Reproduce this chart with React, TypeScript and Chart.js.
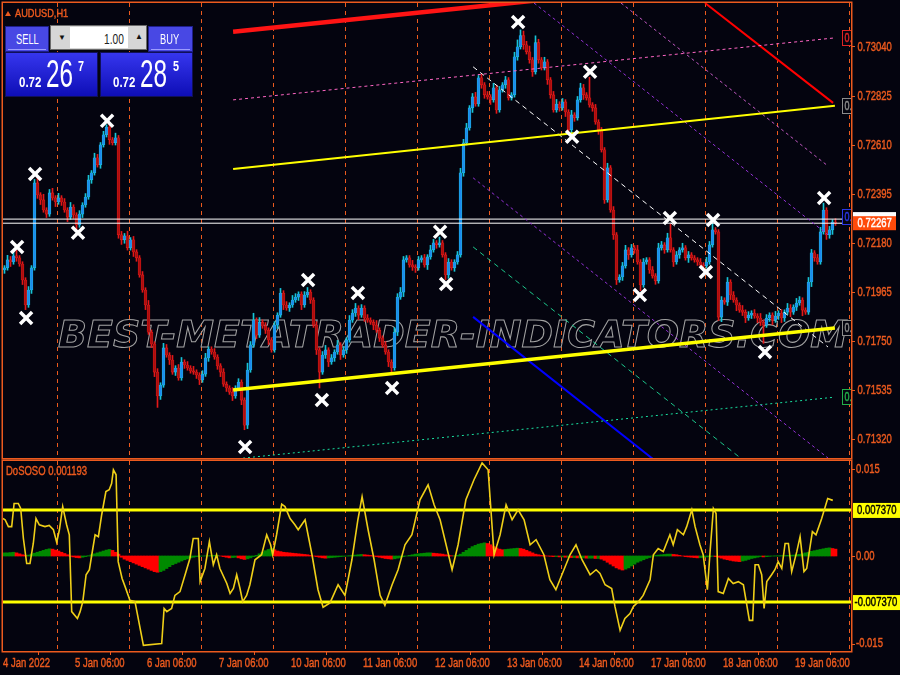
import React, { useEffect, useRef } from 'react';
import { Chart, registerables } from 'chart.js';

Chart.register(...registerables);

const ORANGE = '#EC5A1E';
const BG = '#04040f';
const SANS = "'Liberation Sans', Arial, sans-serif";

// ---------------- price pane (AUDUSD H1), one value per hourly bar ----------------
const firstOpen = 0.72062;
const closes = [
  0.72071,0.72106,0.72097,0.72124,0.72115,0.72088,0.72018,0.71908,0.71974,0.72071,
  0.72444,0.72391,0.72369,0.72325,0.72307,0.72400,0.72378,0.72360,0.72378,0.72360,
  0.72325,0.72294,0.72338,0.72303,0.72259,0.72307,0.72347,0.72382,0.72457,0.72488,
  0.72554,0.72523,0.72611,0.72655,0.72689,0.72633,0.72620,0.72642,0.72216,0.72194,
  0.72212,0.72159,0.72194,0.72141,0.72115,0.72040,0.71974,0.71908,0.71789,0.71737,
  0.71614,0.71509,0.71557,0.71720,0.71689,0.71667,0.71614,0.71632,0.71588,0.71658,
  0.71645,0.71632,0.71619,0.71614,0.71601,0.71579,0.71605,0.71676,0.71715,0.71702,
  0.71680,0.71641,0.71614,0.71561,0.71544,0.71526,0.71509,0.71544,0.71570,0.71491,
  0.71381,0.71623,0.71733,0.71842,0.71776,0.71833,0.71816,0.71798,0.71755,0.71711,
  0.71820,0.71864,0.71961,0.71908,0.71895,0.71908,0.71930,0.71943,0.71956,0.71908,
  0.71952,0.71965,0.71930,0.71820,0.71711,0.71614,0.71689,0.71711,0.71658,0.71676,
  0.71702,0.71733,0.71689,0.71711,0.71755,0.71842,0.71873,0.71895,0.71864,0.71895,
  0.71851,0.71842,0.71833,0.71820,0.71798,0.71763,0.71733,0.71702,0.71658,0.71632,
  0.71789,0.71943,0.71965,0.72106,0.72115,0.72084,0.72075,0.72071,0.72106,0.72115,
  0.72084,0.72119,0.72150,0.72181,0.72172,0.72181,0.72128,0.72040,0.72097,0.72071,
  0.72097,0.72128,0.72488,0.72620,0.72685,0.72773,0.72821,0.72790,0.72905,0.72874,
  0.72830,0.72821,0.72808,0.72861,0.72764,0.72852,0.72874,0.72896,0.72817,0.72830,
  0.72997,0.73041,0.73090,0.73050,0.73019,0.72984,0.72931,0.73059,0.72984,0.72949,
  0.72975,0.72896,0.72830,0.72764,0.72790,0.72773,0.72799,0.72755,0.72677,0.72742,
  0.72729,0.72808,0.72861,0.72830,0.72817,0.72786,0.72773,0.72711,0.72677,0.72589,
  0.72369,0.72510,0.72325,0.72216,0.72018,0.72031,0.72080,0.72150,0.72128,0.72159,
  0.72150,0.72097,0.71996,0.72097,0.72106,0.72062,0.72036,0.72014,0.72159,0.72172,
  0.72150,0.72203,0.72150,0.72097,0.72128,0.72150,0.72159,0.72115,0.72128,0.72115,
  0.72106,0.72097,0.72084,0.72080,0.72097,0.72172,0.72238,0.72229,0.71855,0.71930,
  0.71921,0.72009,0.71952,0.71930,0.71908,0.71886,0.71877,0.71851,0.71864,0.71873,
  0.71860,0.71851,0.71833,0.71820,0.71851,0.71864,0.71842,0.71860,0.71873,0.71851,
  0.71877,0.71895,0.71877,0.71899,0.71917,0.71930,0.71886,0.71877,0.72009,0.72137,
  0.72115,0.72097,0.72229,0.72325,0.72216,0.72238,0.72272,0.72267,
];
// upper / lower shadow beyond the body, in pips
const wickUp = [
  1,2,1.5,2,2.5,1,1,1,1.5,1, 1.5,2,1,2.5,1,1.5,2,1,2,1, 1.5,1,2,1,1,1.5,1,1.5,2,1,
  2,1.5,1,1.5,1,1.5,1,2,1,1.5, 1,2,1,1.5,1,1,1.5,1,2,1, 1,1.5,1,2,1.5,1,2,1,1.5,2,
  1,1.5,1,2,1,1,1.5,2,1,1, 1.5,1,1,1.5,1,1,2,1,1.5,1, 1,3,1.5,3,1,2,1,1.5,1,1,
  1.5,1,2,1,1.5,1,2,1.5,1,1, 1.5,2,1,1,1.5,1,1.5,2,1,1.5, 1,2,1,1.5,1,2,1.5,2,1,1.5,
  1,1.5,1,1,2,1,1,1.5,1,1, 2,1.5,2,1.5,1,1,2,1,1.5,1, 1.5,1,2,1.5,1,2.5,1,1,1.5,1,
  1,1.5,2,1.5,2,1,1.5,2,1,1.5, 1,1.5,1,2,1,1.5,1,1.5,1,1, 2,3,2.5,2,1.5,2.5,1,3,1.5,1,
  2,1,1,1.5,2,1,1.5,1,1,2, 1,1.5,2,1.5,1,9,1,1.5,1,1, 1,2,1,1.5,1,1,1.5,2,1,1.5,
  1,2,1,1.5,1,1,1.5,1,2,1.5, 1,2,6,1,1.5,1,2,1,1.5,1, 1,1,1.5,1,2,1.5,3,1,1,1.5,
  1,2,1,1.5,1,1,2,1,1.5,1, 1.5,1,2,1,1.5,1,1,2,1,1.5, 1,2,1.5,1,2,1.5,1,1,2,1.5,
  1,1.5,2,3,1,1.5,1,1.5,
];
const wickDn = [
  1.5,1,2,1,1.5,1,2,2,1,1.5, 1,1.5,2,1,1.5,1,1,2,1,1.5, 1,2,1,1.5,2,1,1.5,1,1,1.5,
  1,1,1.5,1,1,2,1,1,1.5,2, 1.5,1,1,2,1.5,1,1,2,1,1.5, 2,5,1.5,1,1,2,1,1.5,1,1,
  1.5,1,1,1,1.5,2,1,1,1.5,1, 1,1.5,2,1,1.5,1,2,1,1,2, 2,1.5,1,1,1.5,1,1,1.5,2,1,
  1,1.5,1,2,1,1.5,1,1,1.5,2, 1,1,1.5,1,2,7,1,1.5,2,1, 1.5,1,2,1,1.5,1,1,1.5,2,1,
  1.5,1,1,2,1,1.5,1,1,2,3, 1,1.5,1,2,1,1,1.5,2,1,1, 1,2,1,1,1.5,1,1,2,1.5,1,
  1.5,1,1,1.5,1,1,2,1,1,1.5, 1.5,1,2,1,1.5,1,1,1.5,1,1, 1,1.5,1,2,1,1.5,2,1,1.5,1,
  1,2,1.5,1,1,1.5,1,2,1.5,1.5, 1.5,1,1,2,1,1,1.5,1,2,1, 1.5,1,1,2,2,1,1.5,1,2,1,
  1.5,1,2.5,1,1,1.5,1,1.5,1,1, 1.5,1,1,2,1,1.5,1,1,2,1, 1,1.5,1,1.5,1,1,1,1,1.5,2,
  1,1.5,2,1,2.5,1,1.5,2,1,1.5, 1,2,1.5,8,1,1.5,2,1,1.5,2, 1.5,1,2,1,1.5,1,2.5,1,1,2,
  1.5,1,1,1,2,1.5,2,1,
];
const PIP = 0.0001;

const priceTicks = [0.7132, 0.71535, 0.7175, 0.71965, 0.7218, 0.72395, 0.7261, 0.72825, 0.7304];
const priceMin = 0.71237;
const priceMax = 0.73233;
const bidPrice = 0.72267;
const askPrice = 0.72285;

const X_MIN = -0.5;
const X_MAX = 282.17;
const dayStarts = [17.5, 41.5, 65.5, 89.5, 113.5, 137.5, 161.5, 185.5, 209.5, 233.5, 257.5, 281.5];
const dateTicks = [-0.5, 23.5, 47.5, 71.5, 95.5, 119.5, 143.5, 167.5, 191.5, 215.5, 239.5, 263.5];
const dateLabels = ['4 Jan 2022', '5 Jan 06:00', '6 Jan 06:00', '7 Jan 06:00', '10 Jan 06:00', '11 Jan 06:00',
  '12 Jan 06:00', '13 Jan 06:00', '14 Jan 06:00', '17 Jan 06:00', '18 Jan 06:00', '19 Jan 06:00'];

// zigzag swing markers (bar position, price)
const zigzagIdx = [4.2, 7.2, 10.2, 24.5, 34.2, 80.2, 101.2, 105.8, 117.8, 129.2, 145.2, 147.2, 171.2, 189.2, 195.2, 211.8, 221.8, 233.8, 236.2, 253.5, 273.2];
const zigzagPrice = [0.72163, 0.71851, 0.72483, 0.72225, 0.72716, 0.71285, 0.72018, 0.71491, 0.71961, 0.71544, 0.72229, 0.72000, 0.73150, 0.72646, 0.72931, 0.71952, 0.72290, 0.72053, 0.72281, 0.71702, 0.72378];

// regression channel (start bar, end bar) and price at both ends
const channelIdx = [76.2, 276.8];
const chanRed = [0.73107, 0.73379];
const chanPink = [0.72808, 0.73080];
const chanYellowUpper = [0.72505, 0.72782];
const chanYellowLower = [0.71535, 0.71807];
const chanGreen = [0.71232, 0.71504];

// descending fork lines: [startBar, endBar], [startPrice, endPrice]
const forkRedIdx = [233.5, 276.2];     const forkRed = [0.73233, 0.72795];
const forkOrchidIdx = [205.5, 274.5];  const forkOrchid = [0.73233, 0.72518];
const forkUpperIdx = [176.5, 274.5];   const forkUpper = [0.73233, 0.72216];
const forkMidIdx = [156.2, 274.5];     const forkMedian = [0.72953, 0.71724];
const forkLower = [0.72466, 0.71237];
const forkGreen = [0.72163, 0.70934];
const forkBlue = [0.71856, 0.70626];

// small object tags at the right edge of the price pane
const tagPrices = [0.73080, 0.72782, 0.72295, 0.71807, 0.71504];
const tagColors = ['#E02424', '#8c8c8c', '#2a36e6', '#8c8c8c', '#22b04a'];

// ---------------- DoSOSO sub-window (values in units of 0.001) ----------------
const histMilli = [
  0.5,0.5,0.55,0.6,0.5,0.35,0.2,0.1,0.15,0.3, 0.45,0.6,0.75,0.9,1.05,1.15,1.1,0.95,0.8,0.6,
  0.4,0.2,-0.05,-0.15,-0.25,-0.3,-0.2,-0.1,0.05,0.2, 0.35,0.5,0.65,0.8,0.95,1.05,0.9,0.6,0.3,-0.2,
  -0.5,-0.7,-0.9,-1.1,-1.3,-1.5,-1.7,-1.9,-2.1,-2.3, -2.5,-2.6,-2.5,-2.3,-2.0,-1.7,-1.4,-1.2,-1.0,-0.8,
  -0.6,-0.45,-0.3,-0.2,-0.1,-0.05,0,0.02,0.05,0.08, 0.1,0.1,0,-0.1,-0.2,-0.3,-0.25,-0.2,-0.3,-0.45,
  -0.55,-0.45,-0.3,-0.1,0.1,0.35,0.6,0.85,1.05,1.2, 1.0,0.8,0.7,0.6,0.55,0.5,0.45,0.4,0.35,0.3,
  0.25,0.2,0.1,0,-0.1,-0.2,-0.3,-0.35,-0.3,-0.25, -0.2,-0.15,-0.1,-0.05,0,0.05,0.1,0.15,0.2,0.25,
  0.2,0.15,0.1,0,-0.1,-0.2,-0.3,-0.4,-0.45,-0.5, -0.45,-0.35,-0.25,-0.1,0,0.1,0.2,0.3,0.35,0.4,
  0.45,0.5,0.5,0.45,0.4,0.35,0.3,0.2,0.1,0.05, 0.05,0.1,0.3,0.6,0.9,1.2,1.5,1.7,1.9,2.0,
  2.1,2.0,1.8,1.5,1.3,1.1,1.0,1.05,1.1,1.15, 1.2,1.25,1.2,1.1,0.9,0.7,0.5,0.3,0.2,0.1,
  0.05,0,-0.05,-0.1,-0.1,-0.15,-0.15,-0.2,-0.2,-0.25, -0.25,-0.3,-0.3,-0.3,-0.35,-0.35,-0.35,-0.4,-0.4,-0.5,
  -0.7,-1.0,-1.3,-1.6,-1.9,-2.1,-2.25,-2.1,-1.9,-1.6, -1.3,-1.0,-0.8,-0.6,-0.4,-0.25,0,0.1,0.15,0.2,
  0.25,0.3,0.3,0.25,0.2,0.1,0,-0.1,-0.15,-0.2, -0.25,-0.3,-0.25,-0.2,-0.15,-0.1,-0.05,-0.1,-0.2,-0.35,
  -0.5,-0.6,-0.7,-0.8,-0.85,-0.9,-0.8,-0.7,-0.55,-0.4, -0.3,-0.2,-0.1,-0.15,-0.1,-0.05,0,0.02,0.04,0.06,
  0.08,0.1,0.12,0.15,0.2,0.25,0.35,0.5,0.6,0.75, 0.85,0.95,1.05,1.15,1.25,1.3,1.2,1.1,
];
// oscillator line vertices: [bar position, value]
const oscPoints = [
  [-0.5,6.0],[0.2,5.8],[1.3,4.7],[2.4,4.7],[3.2,8.4],[4.6,8.4],[5.4,7.6],[6.3,2.8],[7.4,-1.2],[8.5,-1.2],
  [9.6,2.0],[10.5,6.0],[11.6,5.0],[13.5,4.7],[14.9,4.9],[16.3,4.2],[17.4,2.2],[18.3,4.2],[19.4,7.9],[20.7,5.0],
  [21.6,3.4],[22.4,-8.9],[24.3,-10.0],[25.2,-8.9],[26.1,-7.3],[27.2,-3.0],[28.3,-2.2],[29.1,0.2],[30.2,3.4],[31.3,3.1],
  [32.4,6.6],[33.8,10.3],[34.9,10.6],[35.7,11.6],[36.3,13.8],[37.2,13.0],[37.9,-0.9],[39.2,-3.6],[40.2,-4.9],[41.8,-7.1],
  [43.5,-7.3],[46.3,-14.3],[52.4,-14.0],[53.2,-8.4],[54.1,-8.9],[55.7,-8.4],[56.8,-6.3],[58.5,-5.7],[60.2,-3.0],[61.8,-0.4],
  [62.9,2.8],[64.6,2.8],[65.2,-4.1],[66.8,-2.0],[68.3,2.3],[69.6,-1.4],[70.7,0.2],[71.8,-2.0],[74.1,-4.4],[75.2,-6.0],
  [76.3,-5.2],[77.4,-3.0],[78.5,-5.2],[79.4,-7.3],[80.7,-6.3],[81.8,-4.6],[83.5,-0.6],[85.7,0.2],[87.4,3.4],[88.7,1.8],
  [89.4,0.2],[90.7,3.4],[92.4,8.3],[93.5,7.9],[95.2,6.0],[96.8,5.0],[97.9,4.2],
  [100.2,5.8],[102.5,0.2],[104.5,-5.4],[106.2,-8.2],[108.5,-7.5],[111.2,-4.6],[113.5,-6.3],[115.8,-0.6],[117.8,5.8],[119.2,9.5],
  [121.2,4.2],[123.2,-0.6],[125.2,-6.3],[126.8,-7.9],[129.2,-4.6],[131.2,-2.2],[133.5,1.8],[135.8,3.4],[138.5,9.0],[141.2,11.4],
  [143.2,8.2],[145.2,5.8],[147.2,1.8],[149.2,-2.2],[151.2,1.8],[153.8,9.0],[156.5,12.2],[159.2,14.9],[161.2,13.8],[163.2,0.2],
  [165.2,3.4],[167.2,8.2],[169.2,5.8],[171.2,7.4],[173.2,5.8],[175.2,1.8],[177.2,2.6],[179.8,0.2],[181.8,-3.8],[183.8,-5.4],
  [185.8,-3.0],[188.5,0.2],[190.5,1.8],[192.5,-0.6],[195.2,-3.0],[197.2,-2.2],
  [198.5,-2.8],[200.2,-4.6],[202.4,-5.2],[203.5,-8.1],[205.2,-11.9],[206.8,-10.0],[208.5,-9.2],[209.6,-8.1],[211.3,-7.3],[212.9,-6.3],
  [215.2,-3.8],[216.3,0.2],[217.9,1.2],[219.6,0.7],[221.8,3.4],[222.9,1.8],[224.3,4.2],[226.3,3.4],[227.4,4.7],[229.1,7.4],
  [230.2,4.7],[231.8,1.8],[232.9,0.2],[234.3,-5.4],[235.2,0.7],[236.3,7.6],[237.2,6.8],[237.9,-5.7],[239.6,-6.0],[241.3,-3.6],
  [242.9,-4.4],[244.6,-4.1],[246.3,-4.6],[248.3,-10.3],[249.4,-10.3],[250.2,-1.4],[251.3,-1.4],[252.4,-3.0],[253.2,-8.4],[254.1,-4.1],
  [255.7,-3.0],[256.8,-2.2],[257.9,-0.9],[259.1,-2.0],[260.2,2.0],[261.3,2.0],[262.4,-2.5],[264.1,0.7],[265.2,3.1],[266.5,-2.5],
  [267.4,-2.0],[269.3,3.9],[270.5,3.4],[272.4,6.0],[274.4,9.2],[276.1,8.9],
];
const levelMilli = [7.37, -7.37];
const oscRange = [-15.2, 15.2];
const oscAxisTicks = [15, 0, -15];
const oscAxisLabels = ['0.015', '0.00', '-0.015'];
const levelLabels = ['0.007370', '-0.007370'];

const WATERMARK = 'BEST-METATRADER-INDICATORS.COM';

function seg(idx: number[], vals: number[]) {
  return [{ x: idx[0], y: vals[0] }, { x: idx[1], y: vals[1] }];
}

function lineDs(data: any[], color: string, width: number, dash: number[] = [], order = 5) {
  return { type: 'line', data, borderColor: color, borderWidth: width, borderDash: dash, pointRadius: 0, tension: 0, clip: 0, order, fill: false };
}

// text in the squeezed MT4 look: regular sans, compressed horizontally, slightly emboldened
function narrowText(ctx: CanvasRenderingContext2D, text: string, x: number, y: number, size: number, color: string, sx = 0.75, bold = false) {
  ctx.save();
  ctx.font = `${bold ? 'bold ' : ''}${size}px ${SANS}`;
  ctx.fillStyle = color;
  ctx.strokeStyle = color;
  ctx.lineWidth = 0.45;
  ctx.textBaseline = 'middle';
  ctx.textAlign = 'left';
  ctx.translate(x, y);
  ctx.scale(sx, 1);
  ctx.fillText(text, 0, 0);
  ctx.strokeText(text, 0, 0);
  ctx.restore();
}

function drawVerticalGrid(chart: any) {
  const { ctx, chartArea: a, scales } = chart;
  const x = scales.x;
  ctx.save();
  ctx.beginPath();
  ctx.rect(a.left, a.top, a.right - a.left, a.bottom - a.top);
  ctx.clip();
  ctx.strokeStyle = ORANGE;
  ctx.lineWidth = 1;
  ctx.setLineDash([4, 4]);
  dayStarts.forEach((d) => {
    const px = Math.round(x.getPixelForValue(d)) + 0.5;
    ctx.beginPath();
    ctx.moveTo(px, a.top);
    ctx.lineTo(px, a.bottom);
    ctx.stroke();
  });
  ctx.restore();
}

function drawFrame(chart: any) {
  const { ctx, chartArea: a } = chart;
  ctx.save();
  ctx.strokeStyle = ORANGE;
  ctx.lineWidth = 1.5;
  ctx.strokeRect(a.left - 0.75, a.top - 0.75, a.right - a.left + 1.5, a.bottom - a.top + 1.5);
  ctx.restore();
}

const pricePanePlugin = {
  id: 'pricePane',
  beforeDatasetsDraw(chart: any) {
    drawVerticalGrid(chart);
    const { ctx, chartArea: a } = chart;
    ctx.save();
    ctx.beginPath();
    ctx.rect(a.left, a.top, a.right - a.left, a.bottom - a.top);
    ctx.clip();
    ctx.font = "italic bold 40px 'DejaVu Sans'";
    const w = ctx.measureText(WATERMARK).width;
    ctx.translate(58, 347);
    ctx.scale(790 / w, 0.95);
    ctx.strokeStyle = '#a2a2a2';
    ctx.lineWidth = 1.1;
    ctx.strokeText(WATERMARK, 0, 0);
    ctx.restore();
  },
  afterDatasetsDraw(chart: any) {
    const { ctx, chartArea: a, scales } = chart;
    const y = scales.y;
    drawFrame(chart);
    // object tags clipped by the pane border
    ctx.save();
    ctx.beginPath();
    ctx.rect(a.left, a.top, a.right - a.left, a.bottom - a.top);
    ctx.clip();
    tagPrices.forEach((p, i) => {
      const py = Math.round(y.getPixelForValue(p));
      ctx.fillStyle = BG;
      ctx.fillRect(842, py - 8, 14, 16);
      ctx.strokeStyle = tagColors[i];
      ctx.lineWidth = 1;
      ctx.strokeRect(842.5, py - 7.5, 14, 15);
      narrowText(ctx, '0.', 844.5, py + 0.5, 12, tagColors[i]);
    });
    ctx.restore();
    // price axis labels
    priceTicks.forEach((v) => {
      narrowText(ctx, v.toFixed(5), 857.5, y.getPixelForValue(v) + 0.5, 13, ORANGE, 0.73);
    });
    // ask / bid price labels on the axis
    const ya = y.getPixelForValue(askPrice);
    const yb = y.getPixelForValue(bidPrice);
    ctx.save();
    ctx.fillStyle = '#ffffff';
    ctx.fillRect(853, ya - 7, 43, 14);
    ctx.fillStyle = '#FF4A0A';
    ctx.fillRect(853, yb - 7, 43, 14);
    ctx.restore();
    narrowText(ctx, bidPrice.toFixed(5), 857.5, yb + 0.5, 13, '#ffffff', 0.73);
    // title
    ctx.save();
    ctx.fillStyle = ORANGE;
    ctx.beginPath();
    ctx.moveTo(5, 16);
    ctx.lineTo(8, 11);
    ctx.lineTo(11, 16);
    ctx.closePath();
    ctx.fill();
    ctx.restore();
    narrowText(ctx, 'AUDUSD,H1', 15, 14, 11.5, ORANGE, 0.8);
  },
};

const oscPanePlugin = {
  id: 'oscPane',
  beforeDatasetsDraw(chart: any) {
    drawVerticalGrid(chart);
  },
  afterDatasetsDraw(chart: any) {
    const { ctx, chartArea: a, scales } = chart;
    const y = scales.y;
    const x = scales.x;
    drawFrame(chart);
    narrowText(ctx, 'DoSOSO 0.001193', 6, a.top + 11, 12.5, ORANGE, 0.76);
    oscAxisTicks.forEach((v, i) => {
      let py = y.getPixelForValue(v);
      if (v > 0) py += 7;
      if (v < 0) py -= 6;
      narrowText(ctx, oscAxisLabels[i], 856, py, 13, ORANGE, 0.73);
      ctx.save();
      ctx.fillStyle = ORANGE;
      ctx.fillRect(a.right, Math.round(py), 4, 1);
      ctx.restore();
    });
    levelMilli.forEach((v, i) => {
      const py = y.getPixelForValue(v);
      ctx.save();
      ctx.fillStyle = '#FFFF00';
      ctx.fillRect(853, py - 7, 47, 15);
      ctx.restore();
      narrowText(ctx, levelLabels[i], v > 0 ? 857 : 854.5, py + 0.5, 13, '#000000', 0.73);
    });
    // time axis labels
    dateTicks.forEach((t, i) => {
      narrowText(ctx, dateLabels[i], x.getPixelForValue(t), a.bottom + 12, 13, ORANGE, 0.73);
    });
  },
};

export default function App() {
  const priceRef = useRef<HTMLCanvasElement>(null);
  const oscRef = useRef<HTMLCanvasElement>(null);

  useEffect(() => {
    const opens = closes.map((c, i) => (i === 0 ? firstOpen : closes[i - 1]));
    const bull = closes.map((c, i) => c >= opens[i]);
    const wickData = closes.map((c, i) => ({
      x: i,
      y: [Math.min(opens[i], c) - wickDn[i] * PIP, Math.max(opens[i], c) + wickUp[i] * PIP],
    }));
    const bodyData = closes.map((c, i) => ({ x: i, y: [opens[i], c] }));
    const fullX = [X_MIN, X_MAX];

    const priceChart = new Chart(priceRef.current as HTMLCanvasElement, {
      type: 'bar',
      data: {
        datasets: [
          { type: 'bar', data: wickData, backgroundColor: bull.map((b) => (b ? '#17C4D6' : '#E31818')), barThickness: 1, grouped: false, order: 20 } as any,
          {
            type: 'bar', data: bodyData,
            backgroundColor: bull.map((b) => (b ? '#1E88EE' : '#A80E0E')),
            borderColor: bull.map((b) => (b ? '#19C8DA' : '#E81A1A')),
            borderWidth: 0.6, borderSkipped: false,
            barThickness: 2.9, minBarLength: 1, grouped: false, order: 19,
          } as any,
          lineDs(seg(fullX, [askPrice, askPrice]), '#ffffff', 1, [], 8),
          lineDs(seg(fullX, [bidPrice, bidPrice]), '#ffffff', 1, [], 8),
          lineDs(seg(channelIdx, chanRed), '#FF1414', 4.5),
          lineDs(seg(channelIdx, chanPink), '#FF66C4', 1, [3, 3]),
          lineDs(seg(channelIdx, chanYellowUpper), '#FFFF00', 2),
          lineDs(seg(channelIdx, chanYellowLower), '#FFFF00', 3.5),
          lineDs(seg(channelIdx, chanGreen), '#19E0A0', 1, [2, 3]),
          lineDs(seg(forkRedIdx, forkRed), '#FF0000', 2),
          lineDs(seg(forkOrchidIdx, forkOrchid), '#C45AC4', 1, [3, 3]),
          lineDs(seg(forkUpperIdx, forkUpper), '#9432D6', 1, [3, 3]),
          lineDs(seg(forkMidIdx, forkMedian), '#ffffff', 1, [5, 4]),
          lineDs(seg(forkMidIdx, forkLower), '#9432D6', 1, [3, 3]),
          lineDs(seg(forkMidIdx, forkGreen), '#1CC88C', 1, [5, 4]),
          lineDs(seg(forkMidIdx, forkBlue), '#0000FF', 2),
          {
            type: 'line',
            data: zigzagIdx.map((x, i) => ({ x, y: zigzagPrice[i] })),
            showLine: false,
            pointStyle: 'crossRot',
            pointRadius: 8.5,
            pointBorderWidth: 3.5,
            pointBorderColor: '#ffffff',
            pointBackgroundColor: '#ffffff',
            clip: false,
            order: 0,
          } as any,
        ],
      },
      options: {
        responsive: false,
        animation: false,
        devicePixelRatio: 1,
        events: [],
        layout: { autoPadding: false, padding: { left: 3, top: 3, bottom: 2, right: 0 } },
        plugins: { legend: { display: false }, tooltip: { enabled: false } },
        scales: {
          x: { type: 'linear', min: X_MIN, max: X_MAX, display: false, offset: false },
          y: {
            position: 'right',
            min: priceMin,
            max: priceMax,
            afterBuildTicks: (s: any) => { s.ticks = priceTicks.map((v) => ({ value: v })); },
            afterFit: (s: any) => { s.width = 49; },
            ticks: { display: false },
            grid: { drawOnChartArea: false, color: ORANGE, tickLength: 4 },
            border: { color: ORANGE },
          },
        },
      } as any,
      plugins: [pricePanePlugin],
    } as any);

    const histColors = histMilli.map((v, i) => (i === 0 || v >= histMilli[i - 1] ? '#008A00' : '#FF0000'));
    const oscChart = new Chart(oscRef.current as HTMLCanvasElement, {
      type: 'bar',
      data: {
        datasets: [
          { type: 'bar', data: histMilli.map((v, i) => ({ x: i, y: v })), backgroundColor: histColors, barThickness: 3, grouped: false, order: 20 } as any,
          lineDs(seg(fullX, [levelMilli[0], levelMilli[0]]), '#FFFF00', 3, [], 6),
          lineDs(seg(fullX, [levelMilli[1], levelMilli[1]]), '#FFFF00', 3, [], 6),
          { type: 'line', data: oscPoints.map((p) => ({ x: p[0], y: p[1] })), borderColor: '#EFCF18', borderWidth: 1.6, pointRadius: 0, tension: 0, clip: 0, order: 3 } as any,
        ],
      },
      options: {
        responsive: false,
        animation: false,
        devicePixelRatio: 1,
        events: [],
        layout: { autoPadding: false, padding: { left: 3, top: 2, bottom: 0, right: 0 } },
        plugins: { legend: { display: false }, tooltip: { enabled: false } },
        scales: {
          x: {
            type: 'linear',
            min: X_MIN,
            max: X_MAX,
            offset: false,
            afterBuildTicks: (s: any) => { s.ticks = dateTicks.map((v) => ({ value: v })); },
            afterFit: (s: any) => { s.height = 24; },
            ticks: { display: false },
            grid: { drawOnChartArea: false, color: ORANGE, tickLength: 4 },
            border: { color: ORANGE },
          },
          y: {
            position: 'right',
            min: oscRange[0],
            max: oscRange[1],
            ticks: { display: false },
            grid: { display: false },
            border: { color: ORANGE },
            afterFit: (s: any) => { s.width = 49; },
          },
        },
      } as any,
      plugins: [oscPanePlugin],
    } as any);

    return () => {
      priceChart.destroy();
      oscChart.destroy();
    };
  }, []);

  const btn: React.CSSProperties = {
    position: 'absolute', top: 1, height: 26, background: '#4848E4', boxSizing: 'border-box',
    border: '1px solid #1e1e8a', color: '#fff',
  };
  const priceBox: React.CSSProperties = {
    position: 'absolute', top: 27, width: 93, height: 45, boxSizing: 'border-box',
    background: 'linear-gradient(#3636ee, #0e0eb6)', border: '1px solid #10105a', color: '#fff',
  };
  const abs = (o: React.CSSProperties, sx: number): React.CSSProperties => ({
    position: 'absolute', lineHeight: 1, whiteSpace: 'nowrap', transform: `scaleX(${sx})`, transformOrigin: 'left top', ...o,
  });

  return (
    <div style={{ position: 'fixed', left: 0, top: 0, width: 900, height: 675, background: BG, overflow: 'hidden' }}>
      <canvas ref={priceRef} width={900} height={460} style={{ position: 'absolute', left: 0, top: 0, width: 900, height: 460 }} />
      <canvas ref={oscRef} width={900} height={216} style={{ position: 'absolute', left: 0, top: 459, width: 900, height: 216 }} />
      <div style={{ position: 'absolute', left: 5, top: 25, width: 188, height: 72, fontFamily: SANS }}>
        <div style={{ ...btn, left: 0, width: 44 }}>
          <span style={abs({ left: 10, top: 4, fontSize: 15 }, 0.62)}>SELL</span>
          <div style={{ position: 'absolute', left: 2, right: 2, bottom: 1, height: 1, background: '#9c9cff' }} />
        </div>
        <div style={{ position: 'absolute', left: 45, top: 0, width: 97, height: 25, background: '#d6d6d6', border: '1px solid #6a6a6a', boxSizing: 'border-box' }}>
          <span style={abs({ left: 7, top: 8, fontSize: 8, color: '#111' }, 1)}>▼</span>
          <div style={{ position: 'absolute', left: 19, top: 1, width: 58, height: 21, background: '#ffffff' }}>
            <span style={abs({ left: 34, top: 4, fontSize: 15, color: '#222' }, 0.68)}>1.00</span>
          </div>
          <span style={abs({ left: 84, top: 7, fontSize: 8, color: '#111' }, 1)}>▲</span>
        </div>
        <div style={{ ...btn, left: 143, width: 45 }}>
          <span style={abs({ left: 11, top: 4, fontSize: 15 }, 0.62)}>BUY</span>
          <div style={{ position: 'absolute', left: 2, right: 2, bottom: 1, height: 1, background: '#9c9cff' }} />
        </div>
        <div style={{ ...priceBox, left: 0 }}>
          <span style={abs({ left: 13, top: 22, fontSize: 14, fontWeight: 'bold' }, 0.82)}>0.72</span>
          <span style={abs({ left: 40, top: 1.5, fontSize: 38 }, 0.64)}>26</span>
          <span style={abs({ left: 72, top: 5, fontSize: 15, fontWeight: 'bold' }, 0.72)}>7</span>
        </div>
        <div style={{ ...priceBox, left: 95 }}>
          <span style={abs({ left: 12, top: 22, fontSize: 14, fontWeight: 'bold' }, 0.82)}>0.72</span>
          <span style={abs({ left: 39, top: 1.5, fontSize: 38 }, 0.64)}>28</span>
          <span style={abs({ left: 72, top: 5, fontSize: 15, fontWeight: 'bold' }, 0.72)}>5</span>
        </div>
      </div>
    </div>
  );
}
